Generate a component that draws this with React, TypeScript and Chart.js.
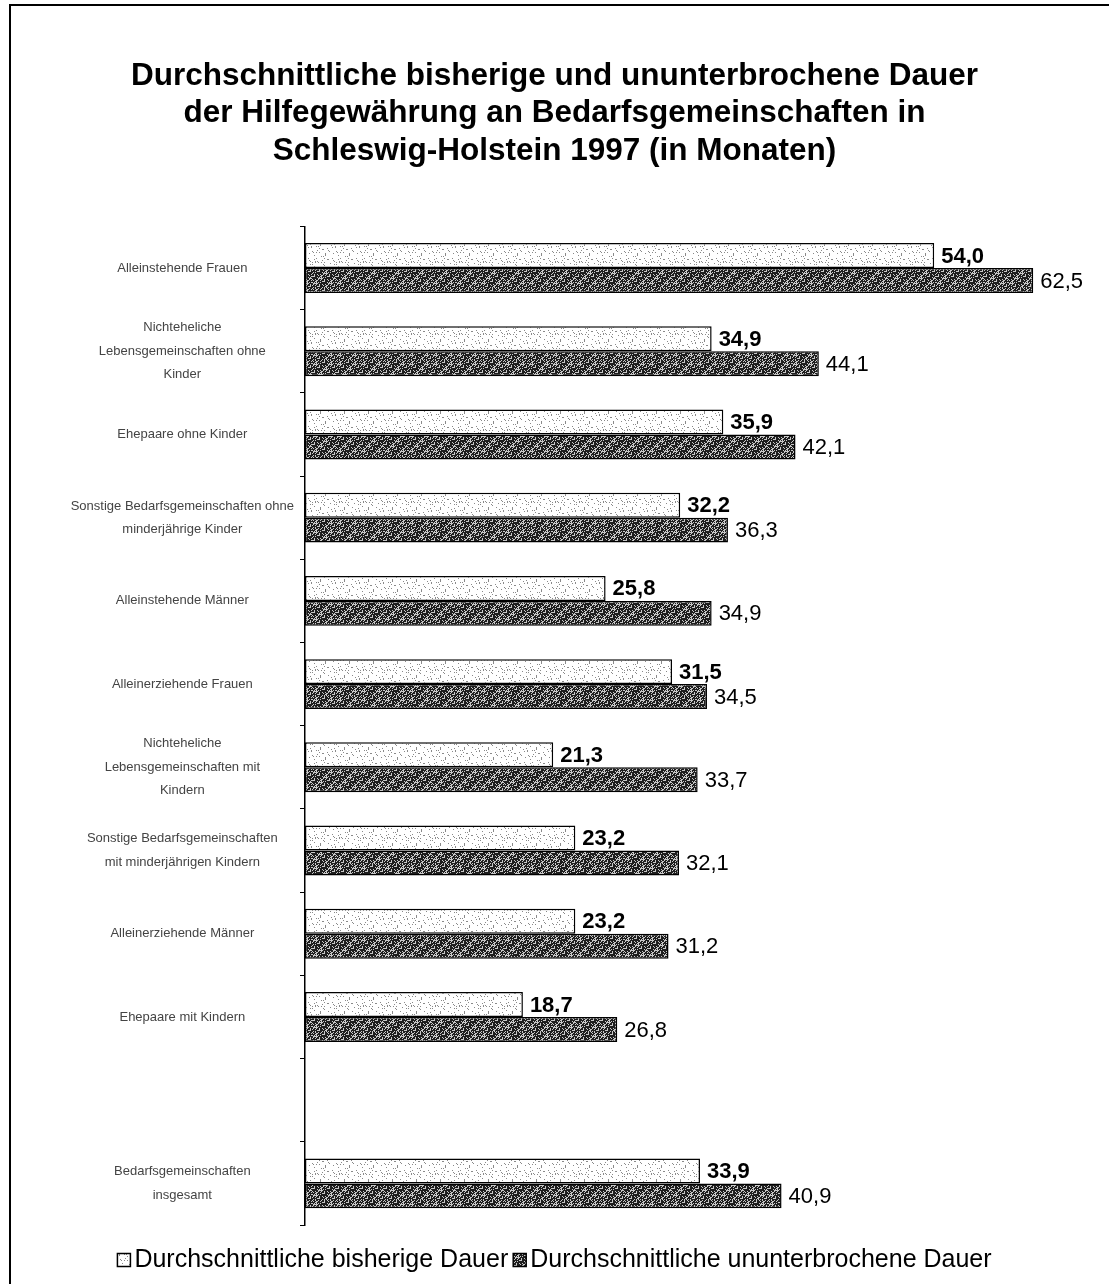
import React, { useEffect, useRef } from "react";
import { Chart, registerables } from "chart.js";

Chart.register(...registerables);

const FONT = "'Liberation Sans', Arial, sans-serif";

const titleLines = [
  "Durchschnittliche bisherige und ununterbrochene Dauer",
  "der Hilfegewährung an Bedarfsgemeinschaften in",
  "Schleswig-Holstein 1997 (in Monaten)",
];

const categories: (string | string[])[] = [
  "Alleinstehende Frauen",
  ["Nichteheliche", "Lebensgemeinschaften ohne", "Kinder"],
  "Ehepaare ohne Kinder",
  ["Sonstige Bedarfsgemeinschaften ohne", "minderjährige Kinder"],
  "Alleinstehende Männer",
  "Alleinerziehende Frauen",
  ["Nichteheliche", "Lebensgemeinschaften mit", "Kindern"],
  ["Sonstige Bedarfsgemeinschaften", "mit minderjährigen Kindern"],
  "Alleinerziehende Männer",
  "Ehepaare mit Kindern",
  "",
  ["Bedarfsgemeinschaften", "insgesamt"],
];

const seriesNames = [
  "Durchschnittliche bisherige Dauer",
  "Durchschnittliche ununterbrochene Dauer",
];

const bisherigeDauer: (number | null)[] = [54.0, 34.9, 35.9, 32.2, 25.8, 31.5, 21.3, 23.2, 23.2, 18.7, null, 33.9];
const ununterbrocheneDauer: (number | null)[] = [62.5, 44.1, 42.1, 36.3, 34.9, 34.5, 33.7, 32.1, 31.2, 26.8, null, 40.9];

const X_MAX = 66;

function makePattern(bg: string, dot: string, mod: number): CanvasPattern | string {
  const c = document.createElement("canvas");
  c.width = 24;
  c.height = 24;
  const g = c.getContext("2d");
  if (!g) return bg;
  g.fillStyle = bg;
  g.fillRect(0, 0, 24, 24);
  g.fillStyle = dot;
  for (let i = 0; i < 24; i++) {
    for (let j = 0; j < 24; j++) {
      if ((i * 7 + j * 13 + ((i * j) % 5)) % mod === 0) g.fillRect(i, j, 1, 1);
    }
  }
  const p = g.createPattern(c, "repeat");
  return p || bg;
}

const fmt = (v: number) => v.toFixed(1).replace(".", ",");

export default function App() {
  const ref = useRef<HTMLCanvasElement | null>(null);

  useEffect(() => {
    const canvas = ref.current;
    if (!canvas) return;
    const lightFill = makePattern("#ffffff", "#8a8a8a", 11);
    const darkFill = makePattern("#1e1e1e", "#c8c8c8", 3);

    const framePlugin = {
      id: "frame",
      beforeDraw(chart: any) {
        const ctx = chart.ctx;
        ctx.save();
        ctx.fillStyle = "#ffffff";
        ctx.fillRect(0, 0, chart.width, chart.height);
        ctx.strokeStyle = "#000";
        ctx.lineWidth = 2;
        ctx.beginPath();
        ctx.moveTo(10, 5);
        ctx.lineTo(chart.width, 5);
        ctx.moveTo(10, 4);
        ctx.lineTo(10, chart.height);
        ctx.stroke();
        ctx.restore();
      },
    };

    const valuePlugin = {
      id: "values",
      afterDatasetsDraw(chart: any) {
        const ctx = chart.ctx;
        ctx.save();
        ctx.fillStyle = "#000";
        ctx.textBaseline = "middle";
        ctx.textAlign = "left";
        chart.data.datasets.forEach((ds: any, di: number) => {
          ctx.font = di === 0 ? `bold 22px ${FONT}` : `22px ${FONT}`;
          const meta = chart.getDatasetMeta(di);
          meta.data.forEach((el: any, i: number) => {
            const v = ds.data[i];
            if (v == null) return;
            ctx.fillText(fmt(v), el.x + 7, el.y + 1);
          });
        });
        ctx.restore();
      },
    };

    const legendPlugin = {
      id: "customLegend",
      afterDraw(chart: any) {
        const ctx = chart.ctx;
        ctx.save();
        ctx.font = `25px ${FONT}`;
        ctx.textBaseline = "middle";
        ctx.textAlign = "left";
        const box = 13;
        const gapBoxText = 4;
        const gapItems = 5;
        const items = chart.data.datasets.map((ds: any) => ({
          label: ds.label,
          fill: ds.backgroundColor,
          w: ctx.measureText(ds.label).width,
        }));
        const total = items.reduce((s: number, it: any, i: number) => s + box + gapBoxText + it.w + (i > 0 ? gapItems : 0), 0);
        let x = chart.width / 2 - total / 2;
        const cy = 1260;
        items.forEach((it: any, i: number) => {
          if (i > 0) x += gapItems;
          ctx.fillStyle = it.fill;
          ctx.fillRect(x, cy - box / 2, box, box);
          ctx.strokeStyle = "#000";
          ctx.lineWidth = 1.5;
          ctx.strokeRect(x, cy - box / 2, box, box);
          x += box + gapBoxText;
          ctx.fillStyle = "#000";
          ctx.fillText(it.label, x, cy);
          x += it.w;
        });
        ctx.restore();
      },
    };

    const chart = new Chart(canvas, {
      type: "bar",
      data: {
        labels: categories,
        datasets: [
          {
            label: seriesNames[0],
            data: bisherigeDauer,
            backgroundColor: lightFill as any,
            borderColor: "#000",
            borderWidth: 1.5,
            borderSkipped: false,
            categoryPercentage: 0.6,
            barPercentage: 1,
          },
          {
            label: seriesNames[1],
            data: ununterbrocheneDauer,
            backgroundColor: darkFill as any,
            borderColor: "#000",
            borderWidth: 1.5,
            borderSkipped: false,
            categoryPercentage: 0.6,
            barPercentage: 1,
          },
        ],
      },
      options: {
        indexAxis: "y",
        animation: false,
        responsive: false,
        maintainAspectRatio: false,
        layout: { padding: { left: 35, right: 35, top: 0, bottom: 59 } },
        scales: {
          x: { display: false, min: 0, max: X_MAX },
          y: {
            grid: {
              display: true,
              drawOnChartArea: false,
              drawTicks: true,
              tickLength: 5,
              color: "#000",
              offset: true,
            },
            border: { display: true, color: "#000", width: 1.5 },
            ticks: {
              autoSkip: false,
              crossAlign: "center",
              padding: 6,
              color: "#444",
              font: { family: FONT, size: 13, lineHeight: 1.8 },
            },
            afterFit: (s: any) => {
              s.width = 270;
            },
          } as any,
        },
        plugins: {
          title: {
            display: true,
            text: titleLines,
            color: "#000",
            font: { family: FONT, size: 31.5, weight: "bold", lineHeight: 1.2 },
            padding: { top: 57, bottom: 56 },
          },
          legend: { display: false },
          tooltip: { enabled: false },
        },
      },
      plugins: [framePlugin, valuePlugin, legendPlugin],
    });
    return () => chart.destroy();
  }, []);

  return (
    <div style={{ position: "absolute", left: 0, top: 0, width: 1109, height: 1284 }}>
      <canvas ref={ref} width={1109} height={1284} style={{ width: 1109, height: 1284, display: "block" }} />
    </div>
  );
}
